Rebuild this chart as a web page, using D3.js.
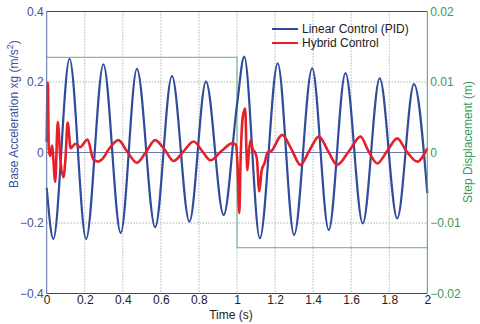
<!DOCTYPE html>
<html><head><meta charset="utf-8">
<script src="https://cdn.jsdelivr.net/npm/d3@7"></script>
<style>
html,body{margin:0;padding:0;background:#fff;}
svg{display:block;font-family:"Liberation Sans",Arial,Helvetica,sans-serif;}
</style></head>
<body><svg id="c" width="480" height="324"></svg>
<script>
// ---- data ----
const xTicks = [0,0.2,0.4,0.6,0.8,1,1.2,1.4,1.6,1.8,2];
const yTicks = [-0.4,-0.2,0,0.2,0.4];
const y2Ticks = [-0.02,-0.01,0,0.01,0.02];
const xTickLabels = ["0","0.2","0.4","0.6","0.8","1","1.2","1.4","1.6","1.8","2"];
const yTickLabels = ["\u22120.4","\u22120.2","0","0.2","0.4"];
const y2TickLabels = ["\u22120.02","\u22120.01","0","0.01","0.02"];
const seriesNames = ["Linear Control (PID)","Hybrid Control"];

// Linear control (PID) base acceleration, [time, value]
const linearT = [0,0.035,0.12,0.207,0.298,0.389,0.474,0.57,0.658,0.75,0.837,0.93,1.0,1.038,1.12,1.214,1.30,1.395,1.482,1.57,1.661,1.75,1.842,1.93,2.0];
const linearV = [-0.10,-0.245,0.266,-0.245,0.25,-0.228,0.237,-0.212,0.217,-0.196,0.201,-0.177,0.135,0.272,-0.243,0.253,-0.234,0.239,-0.22,0.225,-0.201,0.21,-0.187,0.194,-0.115];

// Hybrid control base acceleration, [time, value]
const hybridT = [0,0.006,0.011,0.018,0.028,0.045,0.058,0.072,0.088,0.099,0.11,0.126,0.15,0.175,0.215,0.245,0.27,0.29,0.33,0.377,0.42,0.474,0.52,0.57,0.62,0.667,0.72,0.772,0.82,0.86,0.92,0.975,0.995,1.003,1.012,1.019,1.03,1.043,1.05,1.055,1.062,1.072,1.082,1.095,1.105,1.117,1.13,1.145,1.16,1.18,1.237,1.29,1.333,1.38,1.43,1.48,1.526,1.59,1.649,1.69,1.737,1.79,1.842,1.89,1.947,2.0];
const hybridV = [0.03,0.198,0.01,-0.01,0.02,-0.083,0.087,-0.02,-0.07,-0.015,0.085,0.012,0.025,0.015,0.037,-0.02,-0.026,-0.02,0.012,0.035,0.005,-0.029,0.0,0.035,0.008,-0.024,0.004,0.031,0.002,-0.022,0.005,0.026,0.022,-0.04,-0.172,-0.02,0.10,0.125,0.0,-0.05,0.0,0.035,0.01,0.0,-0.02,-0.11,-0.05,-0.03,0.0,0.004,0.05,0.005,-0.035,0.005,0.045,0.003,-0.035,0.005,0.045,0.005,-0.031,0.005,0.04,0.004,-0.026,0.012];

// Step displacement (right axis), [time, value]
const stepT = [0,1,2];
const stepV = [0.0135,-0.0135,-0.0135];

// ---- chart ----
const W = 480, H = 324;
const svg = d3.select("#c");
const x = d3.scaleLinear().domain([0,2]).range([46.7,427.3]);
const y = d3.scaleLinear().domain([-0.4,0.4]).range([293.5,11.5]);
const y2 = d3.scaleLinear().domain([-0.02,0.02]).range([293.5,11.5]);

const cBlue = "#2f4c9c", cRed = "#e5202a", cGreen = "#7cc294";
const cBlueTxt = "#3d51a0", cGreenTxt = "#3a9a5c";
const x0 = x(0), x1 = x(2), yT = y(0.4), yB = y(-0.4);

// gridlines
const grid = svg.append("g");
grid.selectAll("line.vx").data(xTicks.slice(1,-1)).join("line")
  .attr("x1",d=>x(d)).attr("x2",d=>x(d)).attr("y1",yT).attr("y2",yB)
  .attr("stroke","#8a8a8a").attr("stroke-width",1).attr("stroke-dasharray","1,2");
grid.selectAll("line.hy").data([-0.2,0.2]).join("line")
  .attr("x1",x0).attr("x2",x1).attr("y1",d=>y(d)).attr("y2",d=>y(d))
  .attr("stroke","#8a8a8a").attr("stroke-width",1).attr("stroke-dasharray","1,2");
// zero line
svg.append("line").attr("x1",x0).attr("x2",x1).attr("y1",y(0)).attr("y2",y(0))
  .attr("stroke","#6f7cab").attr("stroke-width",1);

// step displacement
const stepData = stepT.map((t,i)=>[t,stepV[i]]);
svg.append("path").datum(stepData)
  .attr("d", d3.line().x(d=>x(d[0])).y(d=>y2(d[1])).curve(d3.curveStepAfter))
  .attr("fill","none").attr("stroke",cGreen).attr("stroke-width",1.3);

// linear control
const linData = linearT.map((t,i)=>[t,linearV[i]]);
svg.append("path").datum(linData)
  .attr("d", d3.line().x(d=>x(d[0])).y(d=>y(d[1])).curve(d3.curveMonotoneX))
  .attr("fill","none").attr("stroke",cBlue).attr("stroke-width",2.2).attr("stroke-linejoin","round");

// hybrid control
const hybData = hybridT.map((t,i)=>[t,hybridV[i]]);
svg.append("path").datum(hybData)
  .attr("d", d3.line().x(d=>x(d[0])).y(d=>y(d[1])).curve(d3.curveMonotoneX))
  .attr("fill","none").attr("stroke",cRed).attr("stroke-width",2.6).attr("stroke-linejoin","round");

// frame
svg.append("line").attr("x1",x0).attr("x2",x1).attr("y1",yT).attr("y2",yT).attr("stroke","#4a4a4a").attr("stroke-width",1);
svg.append("line").attr("x1",x0).attr("x2",x1).attr("y1",yB).attr("y2",yB).attr("stroke","#4a4a4a").attr("stroke-width",1);
svg.append("line").attr("x1",x0).attr("x2",x0).attr("y1",yT).attr("y2",yB).attr("stroke","#5a6aa6").attr("stroke-width",1);
svg.append("line").attr("x1",x1).attr("x2",x1).attr("y1",yT).attr("y2",yB).attr("stroke","#4f9f6c").attr("stroke-width",1);

// axes
const ax = svg.append("g").attr("transform",`translate(0,${yB})`)
  .call(d3.axisBottom(x).tickValues(xTicks).tickSize(0).tickPadding(2).tickFormat((d,i)=>xTickLabels[i]));
ax.select(".domain").remove();
ax.selectAll("text").attr("fill","#222").attr("font-size",12).attr("font-family","Liberation Sans, Arial, sans-serif");

const ayl = svg.append("g").attr("transform",`translate(${x0},0)`)
  .call(d3.axisLeft(y).tickValues(yTicks).tickSize(0).tickPadding(3).tickFormat((d,i)=>yTickLabels[i]));
ayl.select(".domain").remove();
ayl.selectAll("text").attr("fill",cBlueTxt).attr("font-size",12).attr("font-family","Liberation Sans, Arial, sans-serif");

const ayr = svg.append("g").attr("transform",`translate(${x1},0)`)
  .call(d3.axisRight(y2).tickValues(y2Ticks).tickSize(0).tickPadding(3).tickFormat((d,i)=>y2TickLabels[i]));
ayr.select(".domain").remove();
ayr.selectAll("text").attr("fill",cGreenTxt).attr("font-size",12).attr("font-family","Liberation Sans, Arial, sans-serif");

// axis titles
svg.append("text").attr("x",231).attr("y",319).attr("text-anchor","middle")
  .attr("font-size",12).attr("fill","#222").text("Time (s)");
const lt = svg.append("text").attr("transform","translate(18,114) rotate(-90)")
  .attr("text-anchor","middle").attr("font-size",12).attr("fill",cBlueTxt);
lt.append("tspan").text("Base Acceleration xg (m/s");
lt.append("tspan").attr("dy",-5).attr("font-size",9).text("2");
lt.append("tspan").attr("dy",5).text(")");
svg.append("text").attr("transform","translate(472,142) rotate(-90)")
  .attr("text-anchor","middle").attr("font-size",12).attr("fill",cGreenTxt).text("Step Displacement (m)");

// legend
const lg = svg.append("g");
[[cBlue,29,seriesNames[0]],[cRed,43,seriesNames[1]]].forEach(([c,yy,name])=>{
  lg.append("line").attr("x1",272).attr("x2",298).attr("y1",yy).attr("y2",yy).attr("stroke",c).attr("stroke-width",2);
  lg.append("text").attr("x",302).attr("y",yy).attr("dy","0.35em").attr("font-size",12).attr("fill","#222").text(name);
});
</script></body></html>
